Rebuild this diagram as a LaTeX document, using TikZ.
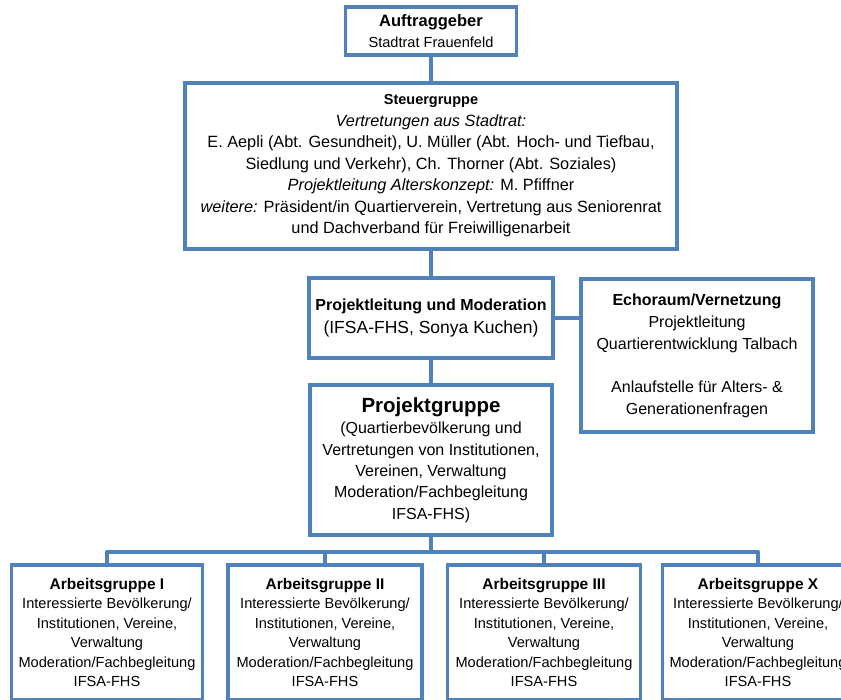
\documentclass[tikz,border=0pt]{standalone}
\usepackage{fontspec}
\setmainfont{Liberation Sans}
\usepackage{xcolor}
\usetikzlibrary{calc,positioning}
\definecolor{orgblue}{RGB}{79,129,189}
\newcommand{\grptitle}[2][16]{{\fontsize{#1}{21}\selectfont\bfseries #2}}

\begin{document}
\begin{tikzpicture}[x=1pt,y=-1pt,
    orgbox/.style={draw=orgblue,line width=3.5pt,rectangle,fill=white,inner sep=0pt,
      align=center,font=\fontsize{14.6}{21.4}\selectfont},
    agbox/.style={orgbox,font=\fontsize{14.6}{19.5}\selectfont,
      minimum width=191pt,minimum height=135pt},
    link/.style={draw=orgblue,line width=3.5pt,line join=round}]
           \useasboundingbox (0,0) rectangle (841,700);
           \node[orgbox,minimum width=171pt,minimum height=48pt] (n_auf) at (431,31)
             {\grptitle[16.5]{Auftraggeber}\\Stadtrat Frauenfeld};
           \node[orgbox,minimum width=492pt,minimum height=166pt,
             font=\fontsize{16.3}{21.5}\selectfont] (n_steuer) at (431,166)
             {\grptitle[14.5]{Steuergruppe}\\
              \textit{Vertretungen aus Stadtrat:}\\
              E. Aepli (Abt. Gesundheit), U. Müller (Abt. Hoch- und Tiefbau,\\
              Siedlung und Verkehr), Ch. Thorner (Abt. Soziales)\\
              \textit{Projektleitung Alterskonzept:} M. Pfiffner\\
              \textit{weitere:} Präsident/in Quartierverein, Vertretung aus Seniorenrat\\
              und Dachverband für Freiwilligenarbeit};
           \node[orgbox,minimum width=244pt,minimum height=80pt,
             font=\fontsize{17.5}{23}\selectfont] (n_pl) at (431,318)
             {\grptitle{Projektleitung und Moderation}\\(IFSA-FHS, Sonya Kuchen)};
           \node[orgbox,minimum width=232pt,minimum height=153pt,
             font=\fontsize{16}{22}\selectfont] (n_echo) at (697,355.5)
             {\grptitle{Echoraum/Vernetzung}\\Projektleitung\\Quartierentwicklung Talbach\\[21pt]
              Anlaufstelle für Alters- \&\\Generationenfragen};
           \node[orgbox,minimum width=242pt,minimum height=150pt,
             font=\fontsize{16}{21.3}\selectfont] (n_pg) at (431,460)
             {\grptitle[20.5]{Projektgruppe}\\(Quartierbevölkerung und\\Vertretungen von Institutionen,\\
              Vereinen, Verwaltung\\Moderation/Fachbegleitung\\IFSA-FHS)};
           \node[agbox] (ag_1) at (107,632.5)
             {\grptitle[15.5]{Arbeitsgruppe I}\\Interessierte Bevölkerung/\\Institutionen, Vereine,\\
              Verwaltung\\Moderation/Fachbegleitung\\IFSA-FHS};
           \node[agbox,minimum width=194pt] (ag_2) at (325,632.5)
             {\grptitle[15.5]{Arbeitsgruppe II}\\Interessierte Bevölkerung/\\Institutionen, Vereine,\\
              Verwaltung\\Moderation/Fachbegleitung\\IFSA-FHS};
           \node[agbox,minimum width=193pt] (ag_3) at (544,632.5)
             {\grptitle[15.5]{Arbeitsgruppe III}\\Interessierte Bevölkerung/\\Institutionen, Vereine,\\
              Verwaltung\\Moderation/Fachbegleitung\\IFSA-FHS};
           \node[agbox] (ag_x) at (758,632.5)
             {\grptitle[15.5]{Arbeitsgruppe X}\\Interessierte Bevölkerung/\\Institutionen, Vereine,\\
              Verwaltung\\Moderation/Fachbegleitung\\IFSA-FHS};
           \coordinate (bus) at ($(n_pg.south)+(0,15)$);
           \path[link]
            (n_auf) -- (n_steuer)
            (n_steuer) -- (n_pl)
            (n_pl.east) -- (n_pl.east -| n_echo.west)
            (n_pl) -- (n_pg)
            (n_pg.south) -- (bus)
            (ag_1.north) |- (bus) -| (ag_x.north)
            (ag_2.north) -- (ag_2.north |- bus)
            (ag_3.north) -- (ag_3.north |- bus);
        \end{tikzpicture}
\end{document}
